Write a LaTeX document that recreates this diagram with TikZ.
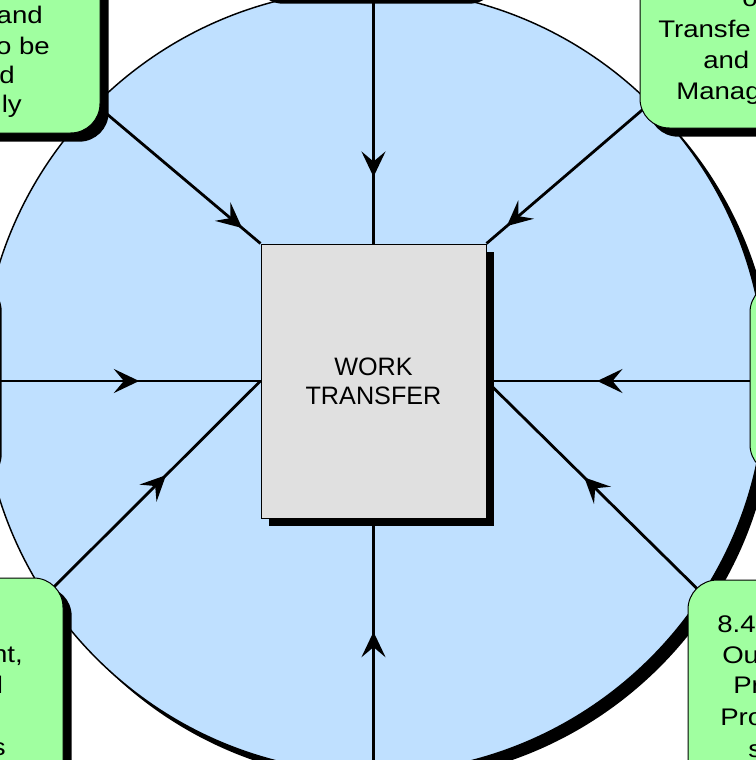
\documentclass[tikz,border=0pt]{standalone}
\usepackage{fontspec}
\setmainfont{Liberation Sans}
\newfontfamily\boxfont[FakeStretch=1.15]{Liberation Sans}
\usetikzlibrary{arrows.meta,decorations.markings,shadows}
\definecolor{ringblue}{RGB}{191,224,255}
\definecolor{boxgreen}{RGB}{160,255,160}
\definecolor{workgray}{RGB}{224,224,224}
\pgfdeclarelayer{ring}
\pgfdeclarelayer{links}
\pgfsetlayers{ring,links,main}
\tikzset{
  greenbox/.style={draw=black, line width=0.75pt, fill=boxgreen, rounded corners=22pt,
    drop shadow={shadow xshift=6.5pt, shadow yshift=-6.5pt, fill=black, opacity=1}},
  workbox/.style={draw=black, line width=0.75pt, fill=workgray, align=center,
    minimum width=168.75pt, minimum height=205.5pt,
    font=\fontsize{18.9}{21.75}\selectfont,
    drop shadow={shadow xshift=6pt, shadow yshift=-6pt, fill=black, opacity=1}},
  frag/.style={inner sep=0pt, font=\boxfont\fontsize{18}{21.6}\selectfont},
  conn/.style={line width=2.1pt, postaction={decorate},
    decoration={markings, mark=at position -#1 with {\arrow{Stealth[length=19pt,width=18pt,inset=7.5pt]}}}}
}
\begin{document}
\begin{tikzpicture}[x=0.75pt,y=0.75pt,yscale=-1,xscale=1]
\useasboundingbox (0,0) rectangle (756,760);
% Center box
\node[workbox] (work) at (373.5,381) {WORK\\TRANSFER};
% Outer boxes
\node[greenbox, minimum width=180pt, minimum height=189pt] (tl) at (-20,7) {};
\node[greenbox, minimum width=183.75pt, minimum height=146.25pt] (top) at (367.5,-102.5) {};
\node[greenbox, minimum width=180pt, minimum height=178.5pt] (tr) at (760,9) {};
\node[greenbox, minimum width=180pt, minimum height=151.5pt] (lm) at (-127,374) {};
\node[greenbox, minimum width=180pt, minimum height=143.25pt] (rm) at (870,378.5) {};
\node[greenbox, minimum width=182.25pt, minimum height=181.5pt] (bl) at (-58.5,699) {};
\node[greenbox, minimum width=180pt, minimum height=177pt] (br) at (808,698) {};
\coordinate (botend) at (373.5,790);
% Circle
\begin{pgfonlayer}{ring}
\fill[black] (382.5,390) circle (392);
\draw[fill=ringblue, line width=1.1pt] (373.5,381) circle (392);
\end{pgfonlayer}
% Connectors
\begin{pgfonlayer}{links}
\draw[conn=50pt] (work.north |- top.south) -- (work.north);
\draw[conn=18pt] (tl.center) -- (work.north west);
\draw[conn=20pt] (tr.center) -- (work.north east);
\draw[conn=91pt] (work.west -| lm.east) -- (work.west);
\draw[conn=83pt] (work.east -| rm.west) -- (work.east);
\draw[conn=100pt] (bl.center) -- (work.west);
\draw[conn=103pt] (br.center) -- (work.east);
\draw[conn=85pt] (botend) -- (work.south);
\end{pgfonlayer}
% Text Node
\node[frag, anchor=base east] (tl1) at (43,23) {and};
\node[frag, anchor=base east] (tl2) at (50,54) {o be};
\node[frag, anchor=base east] (tl3) at (15,83) {d};
\node[frag, anchor=base east] (tl4) at (22,112) {ly};
% Text Node
\node[frag, anchor=base west] (tr1) at (742,7) {o};
\node[frag, anchor=base west] (tr2) at (658,37) {Transfe};
\node[frag, anchor=base west] (tr3) at (703,68) {and};
\node[frag, anchor=base west] (tr4) at (676,99) {Manag};
% Text Node
\node[frag, anchor=base west] (br1) at (717,632) {8.4};
\node[frag, anchor=base west] (br2) at (722,663) {Ou};
\node[frag, anchor=base west] (br3) at (733,693) {Pr};
\node[frag, anchor=base west] (br4) at (720,725) {Pro};
\node[frag, anchor=base west] (br5) at (748,757) {s};
% Text Node
\node[frag, anchor=base east] (bl1) at (23,662) {nt,};
\node[frag, anchor=base east] (bl2) at (3.3,693) {l};
\node[frag, anchor=base east] (bl3) at (6,755) {s};
\end{tikzpicture}
\end{document}
